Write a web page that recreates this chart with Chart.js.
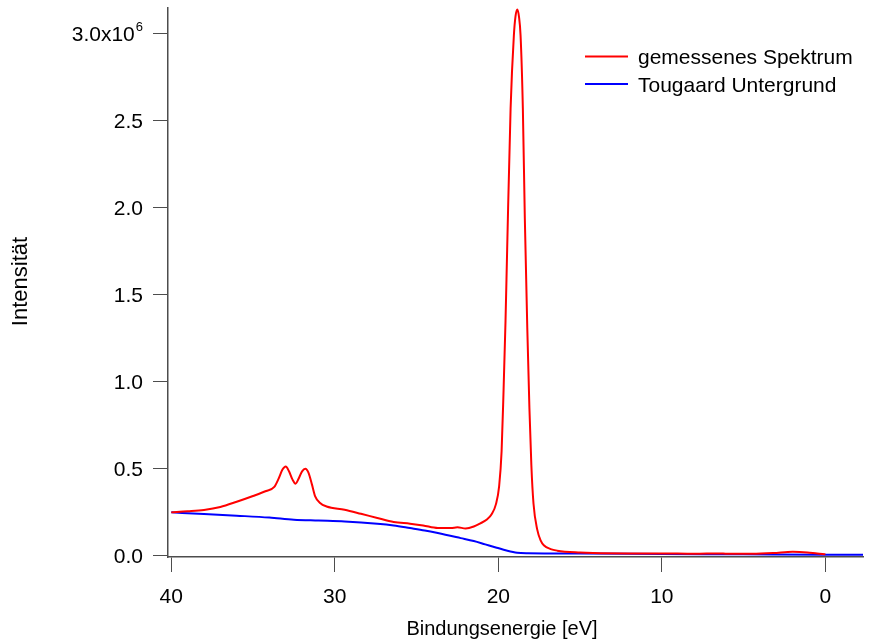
<!DOCTYPE html>
<html>
<head>
<meta charset="utf-8">
<script src="https://cdn.jsdelivr.net/npm/chart.js@4/dist/chart.umd.min.js"></script>
<style>
  html, body { margin: 0; padding: 0; background: #ffffff; }
  canvas { display: block; }
</style>
</head>
<body>
<canvas id="chart" width="872" height="641"></canvas>
<script>
// Measured valence-band spectrum (binding energy in eV, intensity in counts)
const energySpectrum = [
  40.0, 39.0, 38.0, 37.0, 36.0, 35.0, 34.2, 33.7, 33.45, 33.2, 33.0, 32.8, 32.6, 32.4,
  32.2, 32.0, 31.8, 31.6, 31.4, 31.2, 30.9, 30.5, 29.4, 28.4, 27.4, 26.4, 25.4, 24.6,
  23.7, 22.9, 22.5, 22.0, 21.5, 21.1, 20.7, 20.4, 20.15, 19.95, 19.8, 19.68, 19.56,
  19.46, 19.25, 19.05, 18.95, 18.84, 18.74, 18.64, 18.5, 18.38, 18.23, 18.1, 17.98,
  17.85, 17.62, 17.4, 17.22, 16.8, 16.4, 15.0, 14.2, 12.0, 10.1, 8.0, 6.5, 6.0, 4.5,
  3.2, 2.0, 1.1, 0.5, 0.0
];
const intensitySpectrum = [
  249000, 255000, 263000, 280000, 310000, 343000, 372000, 395000, 440000, 495000, 513000, 485000, 440000, 414000,
  445000, 485000, 500000, 475000, 410000, 341000, 303000, 283000, 264000, 241000, 217000, 194000, 184000, 174000,
  159000, 159000, 163000, 157000, 168000, 186000, 208000, 240000, 295000, 400000, 600000, 950000, 1350000,
  1760000, 2570000, 2990000, 3100000, 3140000, 3100000, 2990000, 2570000, 1940000, 1310000, 850000, 520000,
  300000, 150000, 85000, 60000, 38000, 29000, 18000, 15000, 13000, 13000, 11000, 13000, 11000, 11000,
  15000, 23000, 19000, 12000, 8000
];

// Tougaard background
const energyBackground = [
  40.0, 38.0, 36.0, 34.0, 32.5, 31.0, 29.4, 27.4, 26.4, 25.4, 24.5, 23.7, 22.3, 21.5,
  20.8, 20.1, 19.5, 18.85, 18.2, 15.0, 10.0, 5.0, 0.0, -2.3
];
const intensityBackground = [
  249000, 240000, 230000, 219000, 207000, 202000, 197000, 184000, 174000, 159000, 145000, 130000, 101000, 84000,
  65000, 46000, 30000, 17000, 14000, 12000, 10000, 8000, 6000, 6000
];

const xTicks = [40, 30, 20, 10, 0];
const xTickLabels = ['40', '30', '20', '10', '0'];
const yTicks = [0, 500000, 1000000, 1500000, 2000000, 2500000, 3000000];
const yTickLabels = ['0.0', '0.5', '1.0', '1.5', '2.0', '2.5', '3.0x10'];
const yTopExponent = '6';

const seriesNames = ['gemessenes Spektrum', 'Tougaard Untergrund'];
const seriesColors = ['#ff0000', '#0000ff'];
const xTitle = 'Bindungsenergie [eV]';
const yTitle = 'Intensität';

const FONT = '"Liberation Sans", Arial, Helvetica, sans-serif';
const AXIS_COLOR = '#4d4d4d';

function toPoints(xs, ys) {
  return xs.map((x, i) => ({ x: x, y: ys[i] }));
}

// Tick labels, axis titles and legend drawn on top of the chart
const annotate = {
  id: 'annotate',
  afterDraw(chart) {
    const ctx = chart.ctx;
    const xs = chart.scales.x;
    const ys = chart.scales.y;
    ctx.save();
    ctx.fillStyle = '#000000';
    ctx.textBaseline = 'alphabetic';

    // y tick labels
    const labelRight = 143;
    yTicks.forEach((v, i) => {
      const py = ys.getPixelForValue(v);
      const base = py + 7.5;
      ctx.textAlign = 'right';
      if (i === yTicks.length - 1) {
        ctx.font = '13px ' + FONT;
        const wExp = ctx.measureText(yTopExponent).width;
        ctx.fillText(yTopExponent, labelRight, base - 10);
        ctx.font = '21px ' + FONT;
        ctx.fillText(yTickLabels[i], labelRight - wExp - 1, base);
      } else {
        ctx.font = '21px ' + FONT;
        ctx.fillText(yTickLabels[i], labelRight, base);
      }
    });

    // x tick labels
    ctx.font = '21px ' + FONT;
    ctx.textAlign = 'center';
    xTicks.forEach((v, i) => {
      const px = xs.getPixelForValue(v);
      ctx.fillText(xTickLabels[i], px, 603);
    });

    // axis titles
    ctx.font = '20px ' + FONT;
    ctx.textAlign = 'center';
    ctx.fillText(xTitle, 502, 635);
    ctx.save();
    ctx.font = '22px ' + FONT;
    ctx.translate(27, 281.5);
    ctx.rotate(-Math.PI / 2);
    ctx.textAlign = 'center';
    ctx.fillText(yTitle, 0, 0);
    ctx.restore();

    // legend
    ctx.font = '21px ' + FONT;
    const rows = [56.5, 84];
    rows.forEach((ly, i) => {
      ctx.strokeStyle = seriesColors[i];
      ctx.lineWidth = 2;
      ctx.beginPath();
      ctx.moveTo(585, ly);
      ctx.lineTo(628, ly);
      ctx.stroke();
      ctx.fillStyle = '#000000';
      ctx.textAlign = 'left';
      ctx.fillText(seriesNames[i], 638, ly + 7.5);
    });
    ctx.restore();
  }
};

new Chart(document.getElementById('chart'), {
  type: 'line',
  data: {
    datasets: [
      {
        label: seriesNames[0],
        data: toPoints(energySpectrum, intensitySpectrum),
        borderColor: seriesColors[0],
        borderWidth: 2,
        pointRadius: 0,
        cubicInterpolationMode: 'monotone',
        fill: false
      },
      {
        label: seriesNames[1],
        data: toPoints(energyBackground, intensityBackground),
        borderColor: seriesColors[1],
        borderWidth: 2,
        pointRadius: 0,
        cubicInterpolationMode: 'monotone',
        fill: false
      }
    ]
  },
  options: {
    responsive: false,
    animation: false,
    devicePixelRatio: 1,
    layout: { padding: { top: 8, right: 9, left: 0, bottom: 0 } },
    plugins: {
      legend: { display: false },
      tooltip: { enabled: false },
      title: { display: false }
    },
    scales: {
      x: {
        type: 'linear',
        reverse: true,
        min: -2.3,
        max: 40.2,
        afterBuildTicks: (s) => { s.ticks = xTicks.map(v => ({ value: v })); },
        afterFit: (s) => { s.height = 84; },
        ticks: { display: false },
        grid: { drawOnChartArea: false, drawTicks: true, tickLength: 15, color: AXIS_COLOR, lineWidth: 1 },
        border: { display: true, color: AXIS_COLOR, width: 1.5 }
      },
      y: {
        type: 'linear',
        min: -7500,
        max: 3148000,
        afterBuildTicks: (s) => { s.ticks = yTicks.map(v => ({ value: v })); },
        afterFit: (s) => { s.width = 168; },
        ticks: { display: false },
        grid: { drawOnChartArea: false, drawTicks: true, tickLength: 15, color: AXIS_COLOR, lineWidth: 1 },
        border: { display: true, color: AXIS_COLOR, width: 1.5 }
      }
    }
  },
  plugins: [annotate]
});
</script>
</body>
</html>
